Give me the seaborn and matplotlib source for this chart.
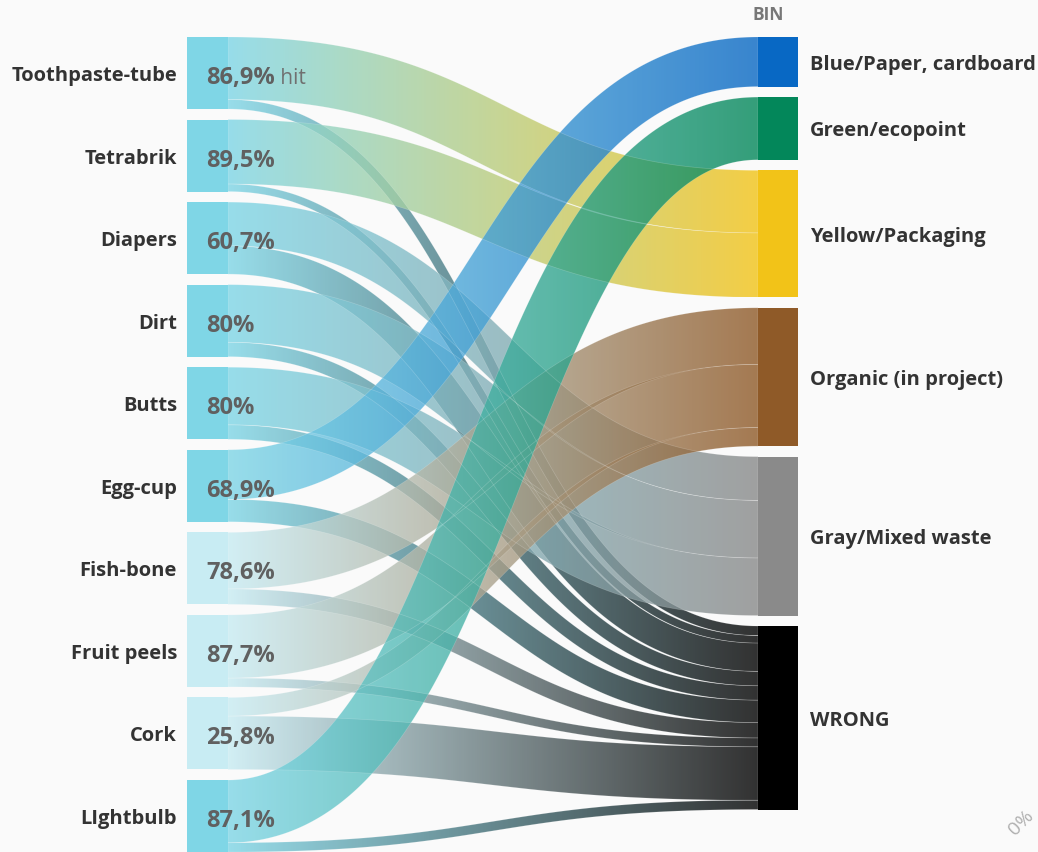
import numpy as np
import matplotlib.pyplot as plt
import seaborn as sns
from matplotlib.path import Path
from matplotlib.patches import PathPatch, Rectangle

sns.set_style("white")
plt.rcParams['font.family'] = ['Open Sans', 'DejaVu Sans']

# data: share of each item that landed in the right bin (rest went WRONG)
items = ['Toothpaste-tube', 'Tetrabrik', 'Diapers', 'Dirt', 'Butts', 'Egg-cup',
         'Fish-bone', 'Fruit peels', 'Cork', 'LIghtbulb']
hit_pct = [86.9, 89.5, 60.7, 80, 80, 68.9, 78.6, 87.7, 25.8, 87.1]
hit_labels = ['86,9%', '89,5%', '60,7%', '80%', '80%', '68,9%', '78,6%', '87,7%', '25,8%', '87,1%']
bins = ['Blue/Paper, cardboard', 'Green/ecopoint', 'Yellow/Packaging',
        'Organic (in project)', 'Gray/Mixed waste', 'WRONG']
correct_bin = ['Yellow/Packaging', 'Yellow/Packaging', 'Gray/Mixed waste', 'Gray/Mixed waste',
               'Gray/Mixed waste', 'Blue/Paper, cardboard', 'Organic (in project)',
               'Organic (in project)', 'Organic (in project)', 'Green/ecopoint']

item_colors = ['#7fd6e6'] * 6 + ['#c8ecf3'] * 3 + ['#7fd6e6']
bin_colors = ['#0868c4', '#03875a', '#f2c318', '#8f5a28', '#8a8a8a', '#000000']

# links (source idx, target idx, value)
links = []
for i, name in enumerate(items):
    links.append((i, bins.index(correct_bin[i]), hit_pct[i]))
    links.append((i, bins.index('WRONG'), 100 - hit_pct[i]))

# layout in pixels
W, H = 1038, 852
scale = 0.72          # px per percent
top = 37
gap_left = 10.56
gap_right = 10.5
xl0, xl1 = 187, 228   # left node
xr0, xr1 = 758, 798   # right node
bg = '#fafafa'

fig = plt.figure(figsize=(W / 100, H / 100), dpi=100, facecolor=bg)
ax = fig.add_axes([0, 0, 1, 1])
ax.set_facecolor(bg)

# node positions
left_y = []
y = top
for v in [100] * len(items):
    left_y.append(y)
    y += v * scale + gap_left

bin_tot = [sum(l[2] for l in links if l[1] == j) for j in range(len(bins))]
right_y = []
y = top
for v in bin_tot:
    right_y.append(y)
    y += v * scale + gap_right

# offsets of each link on both ends
src_off = {}
for i in range(len(items)):
    y = left_y[i]
    for k in sorted([k for k, l in enumerate(links) if l[0] == i], key=lambda k: links[k][1]):
        src_off[k] = y
        y += links[k][2] * scale
tgt_off = {}
for j in range(len(bins)):
    y = right_y[j]
    for k in sorted([k for k, l in enumerate(links) if l[1] == j], key=lambda k: links[k][0]):
        tgt_off[k] = y
        y += links[k][2] * scale


def ribbon(yc0, yc1, h):
    # outline of a thick stroke along a horizontal-tangent bezier
    t = np.linspace(0, 1, 300)[:, None]
    p0 = np.array([xl1, yc0]); p3 = np.array([xr0, yc1])
    xm = (xl1 + xr0) / 2
    p1 = np.array([xm, yc0]); p2 = np.array([xm, yc1])
    b = (1 - t) ** 3 * p0 + 3 * (1 - t) ** 2 * t * p1 + 3 * (1 - t) * t ** 2 * p2 + t ** 3 * p3
    d = 3 * (1 - t) ** 2 * (p1 - p0) + 6 * (1 - t) * t * (p2 - p1) + 3 * t ** 2 * (p3 - p2)
    d = d / np.linalg.norm(d, axis=1, keepdims=True)
    n = np.column_stack([-d[:, 1], d[:, 0]])
    upper = b - n * h / 2
    lower = b + n * h / 2
    pts = np.vstack([upper, lower[::-1], upper[:1]])
    return Path(pts, closed=True)


grad = np.linspace(0, 1, 256).reshape(1, -1)
draw_order = [5, 4, 3, 2, 0, 1]
for j in draw_order:
    for k, (s, t, v) in enumerate(links):
        if t != j:
            continue
        h = v * scale
        path = ribbon(src_off[k] + h / 2, tgt_off[k] + h / 2, h)
        patch = PathPatch(path, facecolor='none', edgecolor='none')
        ax.add_patch(patch)
        cmap = sns.blend_palette([item_colors[s], bin_colors[t]], n_colors=256, as_cmap=True)
        ext = path.get_extents()
        im = ax.imshow(grad, cmap=cmap, extent=[xl1, xr0, ext.y1, ext.y0],
                       aspect='auto', alpha=0.8, interpolation='bilinear')
        im.set_clip_path(patch)
        ax.add_patch(PathPatch(path, facecolor='none', edgecolor='white', lw=0.5, alpha=0.2))

# nodes
for i, name in enumerate(items):
    ax.add_patch(Rectangle((xl0, left_y[i]), xl1 - xl0, 100 * scale,
                           facecolor=item_colors[i], edgecolor='none', zorder=3))
    yc = left_y[i] + 50 * scale
    ax.text(177, yc + 3, name, ha='right', va='center', fontsize=14.5,
            fontweight='bold', color='#333333')
    t = ax.text(206, yc + 5, hit_labels[i], ha='left', va='center', fontsize=17,
                fontweight='bold', color='#606060', zorder=5)
    if i == 0:
        ax.annotate(' hit', xy=(1, 0.5), xycoords=t, ha='left', va='center',
                    fontsize=15, color='#707070', zorder=5)

for j, name in enumerate(bins):
    h = bin_tot[j] * scale
    ax.add_patch(Rectangle((xr0, right_y[j]), xr1 - xr0, h,
                           facecolor=bin_colors[j], edgecolor='none', zorder=3))
    ax.text(810, right_y[j] + h / 2 + 3, name, ha='left', va='center', fontsize=14.5,
            fontweight='bold', color='#333333')

ax.text(768, 15, 'BIN', ha='center', va='center', fontsize=12.5,
        fontweight='bold', color='#777777')
ax.text(1021, 823, '0%', ha='center', va='center', fontsize=14, rotation=45,
        color='#b0b0b0')

ax.set_xlim(0, W)
ax.set_ylim(H, 0)
ax.axis('off')
fig.savefig('out.png', dpi=100, facecolor=bg)
